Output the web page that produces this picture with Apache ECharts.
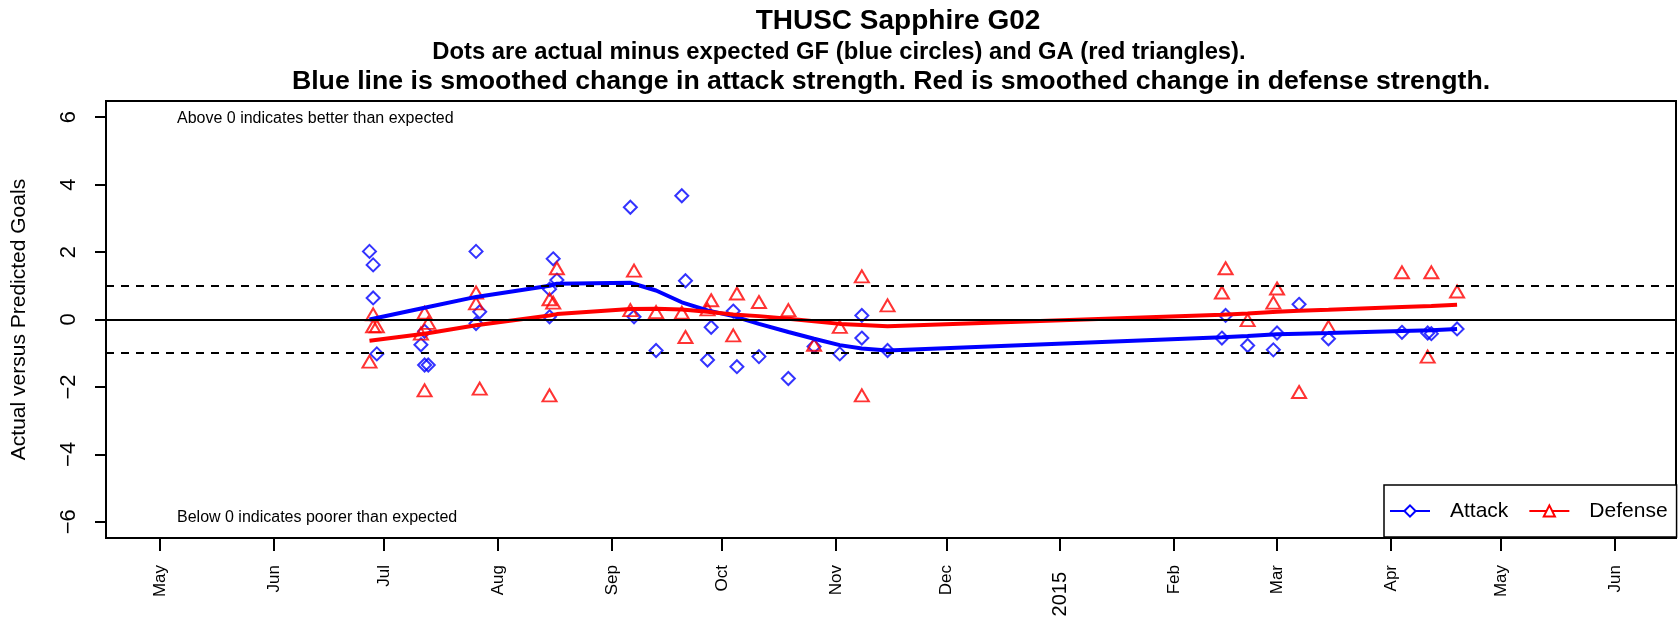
<!DOCTYPE html>
<html>
<head>
<meta charset="utf-8">
<title>THUSC Sapphire G02</title>
<script src="https://cdn.jsdelivr.net/npm/echarts@6.0.0/dist/echarts.min.js"></script>
<style>
  html, body { margin: 0; padding: 0; background: #fff; }
  #main { width: 1679px; height: 618px; }
</style>
</head>
<body>
<div id="main"></div>
<script>
// one entry per game: actual minus expected GF (attack) and GA (defense)
const gameDates = [
  '2014-06-27', '2014-06-28', '2014-06-28', '2014-06-29',
  '2014-07-11', '2014-07-12', '2014-07-12', '2014-07-13',
  '2014-07-26', '2014-07-26', '2014-07-27',
  '2014-08-15', '2014-08-15', '2014-08-16', '2014-08-17',
  '2014-09-06', '2014-09-07', '2014-09-13', '2014-09-20', '2014-09-21',
  '2014-09-27', '2014-09-28', '2014-10-04', '2014-10-05', '2014-10-11',
  '2014-10-19', '2014-10-26', '2014-11-02', '2014-11-08', '2014-11-08',
  '2014-11-15',
  '2015-02-14', '2015-02-15', '2015-02-21', '2015-02-28', '2015-03-01',
  '2015-03-07', '2015-03-15', '2015-04-04', '2015-04-11', '2015-04-12',
  '2015-04-19'
];
const attackDiff = [
  2.02, 1.62, 0.64, -1.02,
  -0.75, -1.35, -0.35, -1.35,
  2.02, -0.12, 0.23,
  0.9, 0.08, 1.8, 1.17,
  3.33, 0.08, -0.92, 3.67, 1.15,
  -1.2, -0.23, 0.25, -1.4, -1.1,
  -1.75, -0.8, -1.02, 0.12, -0.55,
  -0.92,
  -0.55, 0.12, -0.77, -0.9, -0.4,
  0.45, -0.57, -0.38, -0.4, -0.42,
  -0.28
];
const defenseDiff = [
  -1.25, 0.15, -0.2, -0.2,
  -0.42, 0.2, -2.1, -0.1,
  0.8, 0.48, -2.05,
  0.6, -2.25, 0.5, 1.52,
  0.28, 1.45, 0.22, 0.2, -0.52,
  0.3, 0.57, -0.47, 0.77, 0.52,
  0.28, -0.75, -0.22, 1.28, -2.25,
  0.42,
  0.8, 1.52, -0.02, 0.5, 0.92,
  -2.15, -0.22, 1.4, -1.1, 1.4,
  0.83
];

// smoothed change in attack / defense strength
const smoothDates = [
  '2014-06-27', '2014-07-12', '2014-07-26', '2014-08-15', '2014-08-17',
  '2014-09-06', '2014-09-13', '2014-09-20', '2014-09-27', '2014-10-04',
  '2014-10-11', '2014-10-19', '2014-10-26', '2014-11-02', '2014-11-08',
  '2014-11-15', '2015-02-14', '2015-02-21', '2015-03-01', '2015-03-07',
  '2015-03-15', '2015-04-04', '2015-04-12', '2015-04-19'
];
const attackSmooth = [
  0.0, 0.35, 0.67, 1.0, 1.06,
  1.09, 0.86, 0.51, 0.27, 0.1,
  -0.13, -0.37, -0.57, -0.76, -0.86,
  -0.92, -0.53, -0.49, -0.44, -0.42,
  -0.4, -0.34, -0.32, -0.28
];
const defenseSmooth = [
  -0.63, -0.42, -0.17, 0.12, 0.16,
  0.31, 0.32, 0.3, 0.23, 0.15,
  0.1, 0.02, -0.05, -0.13, -0.16,
  -0.2, 0.14, 0.18, 0.23, 0.26,
  0.29, 0.37, 0.4, 0.44
];

// axis ticks
const monthTicks = [
  '2014-05-01', '2014-06-01', '2014-07-01', '2014-08-01', '2014-09-01',
  '2014-10-01', '2014-11-01', '2014-12-01', '2015-01-01', '2015-02-01',
  '2015-03-01', '2015-04-01', '2015-05-01', '2015-06-01'
];
const monthLabels = ['May', 'Jun', 'Jul', 'Aug', 'Sep', 'Oct', 'Nov', 'Dec', '2015', 'Feb', 'Mar', 'Apr', 'May', 'Jun'];
const yTicks = [-6, -4, -2, 0, 2, 4, 6];

const toTime = s => {
  const p = s.split('-').map(Number);
  return Date.UTC(p[0], p[1] - 1, p[2]);
};
const tickTimes = monthTicks.map(toTime);
const pair = (dates, vals) => dates.map((d, i) => [toTime(d), vals[i]]);

const FONT = '"Liberation Sans", Arial, Helvetica, sans-serif';
const BLUE = '#0000ff';
const RED = '#ff0000';

const chart = echarts.init(document.getElementById('main'));

const option = {
  animation: false,
  backgroundColor: '#fff',
  textStyle: { fontFamily: FONT, color: '#000' },
  title: [
    { text: 'THUSC Sapphire G02', left: 898, top: 7, textAlign: 'center', padding: 0,
      textStyle: { fontFamily: FONT, fontSize: 28, fontWeight: 'bold', color: '#000' } },
    { text: 'Dots are actual minus expected GF (blue circles) and GA (red triangles).', left: 839, top: 40, textAlign: 'center', padding: 0,
      textStyle: { fontFamily: FONT, fontSize: 23.8, fontWeight: 'bold', color: '#000' } },
    { text: 'Blue line is smoothed change in attack strength. Red is smoothed change in defense strength.', left: 891, top: 68, textAlign: 'center', padding: 0,
      textStyle: { fontFamily: FONT, fontSize: 26.7, fontWeight: 'bold', color: '#000' } },
    { text: 'Above 0 indicates better than expected', left: 177, top: 111, padding: 0,
      textStyle: { fontFamily: FONT, fontSize: 16, fontWeight: 'normal', color: '#000' } },
    { text: 'Below 0 indicates poorer than expected', left: 177, top: 510, padding: 0,
      textStyle: { fontFamily: FONT, fontSize: 16, fontWeight: 'normal', color: '#000' } }
  ],
  legend: {
    data: ['Attack', 'Defense'],
    left: 1384,
    top: 485,
    orient: 'horizontal',
    padding: [14, 9, 14, 5],
    itemGap: 20,
    itemWidth: 40,
    itemHeight: 14,
    borderColor: '#000',
    borderWidth: 1.5,
    backgroundColor: '#fff',
    lineStyle: { width: 2 },
    textStyle: { fontFamily: FONT, fontSize: 21, color: '#000', lineHeight: 24, padding: [0, 0, 0, 15] }
  },
  grid: {
    left: 106, right: 3, top: 101, bottom: 80,
    outerBoundsMode: 'none',
    containLabel: false,
    show: true, borderColor: '#000', borderWidth: 2, backgroundColor: 'transparent'
  },
  xAxis: {
    type: 'value',
    min: Date.UTC(2014, 3, 16, 7),
    max: Date.UTC(2015, 5, 17, 14),
    axisLine: { show: false, onZero: false },
    splitLine: { show: false },
    axisTick: { show: true, customValues: tickTimes, length: 13, lineStyle: { color: '#000', width: 2 } },
    axisLabel: {
      customValues: tickTimes,
      rotate: 90,
      margin: 27,
      fontFamily: FONT,
      fontSize: 17,
      color: '#000',
      formatter: function (val) {
        let best = 0;
        tickTimes.forEach((t, i) => { if (Math.abs(t - val) < Math.abs(tickTimes[best] - val)) best = i; });
        const lab = monthLabels[best];
        return /^\d+$/.test(lab) ? '{yr|' + lab + '}' : lab;
      },
      rich: { yr: { fontFamily: FONT, fontSize: 20, color: '#000', padding: [0, 7, 0, 0] } }
    }
  },
  yAxis: {
    type: 'value',
    min: -6.48,
    max: 6.48,
    name: 'Actual versus Predicted Goals',
    nameLocation: 'middle',
    nameRotate: 90,
    nameGap: 76,
    nameTextStyle: { fontFamily: FONT, fontSize: 21, color: '#000' },
    axisLine: { show: false, onZero: false },
    splitLine: { show: false },
    axisTick: { show: true, customValues: yTicks, length: 11, lineStyle: { color: '#000', width: 2 } },
    axisLabel: {
      customValues: yTicks,
      rotate: 90,
      margin: 26,
      fontFamily: FONT,
      fontSize: 22,
      color: '#000',
      formatter: v => (v < 0 ? '\u2212' + Math.abs(v) : String(v))
    }
  },
  series: [
    {
      name: 'Attack',
      type: 'line',
      data: pair(smoothDates, attackSmooth),
      symbol: 'emptyDiamond',
      showSymbol: false,
      itemStyle: { color: BLUE },
      lineStyle: { color: BLUE, width: 4 },
      z: 4
    },
    {
      name: 'Defense',
      type: 'line',
      data: pair(smoothDates, defenseSmooth),
      symbol: 'emptyTriangle',
      showSymbol: false,
      itemStyle: { color: RED },
      lineStyle: { color: RED, width: 4 },
      z: 4
    },
    {
      name: 'Attack',
      type: 'scatter',
      data: pair(gameDates, attackDiff),
      symbol: 'diamond',
      symbolSize: 13,
      itemStyle: { color: 'rgba(0,0,0,0)', borderColor: BLUE, borderWidth: 2 },
      z: 3
    },
    {
      name: 'Defense',
      type: 'scatter',
      data: pair(gameDates, defenseDiff),
      symbol: 'triangle',
      symbolSize: [14, 12],
      itemStyle: { color: 'rgba(0,0,0,0)', borderColor: RED, borderWidth: 2 },
      z: 3
    },
    {
      name: 'ref',
      type: 'line',
      data: [],
      z: 2,
      markLine: {
        silent: true,
        symbol: ['none', 'none'],
        label: { show: false },
        data: [
          { yAxis: 0, lineStyle: { color: '#000', width: 2, type: 'solid' } },
          { yAxis: 1, lineStyle: { color: '#000', width: 2, type: [8, 7] } },
          { yAxis: -1, lineStyle: { color: '#000', width: 2, type: [8, 7] } }
        ]
      }
    }
  ]
};

chart.setOption(option);
</script>
</body>
</html>
